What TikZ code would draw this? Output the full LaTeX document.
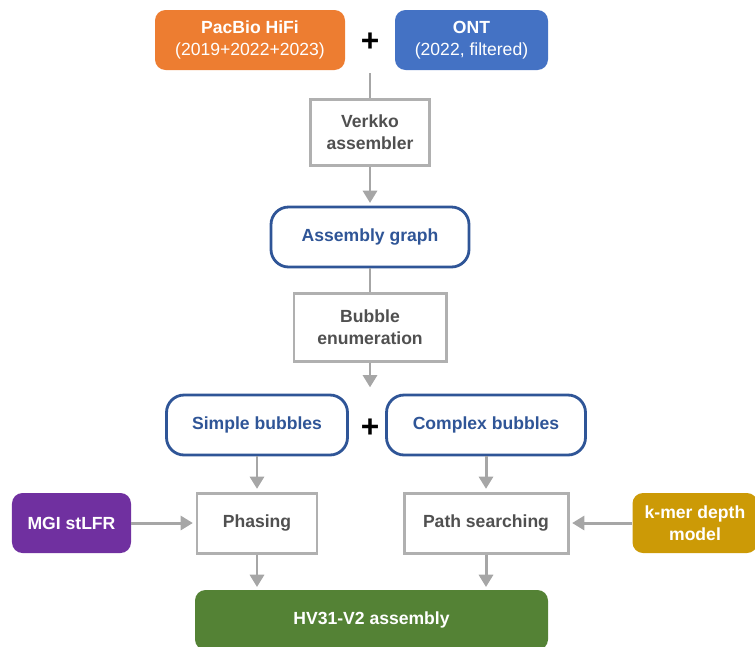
\documentclass[tikz,border=0pt]{standalone}
\usepackage{fontspec}
\setmainfont{Liberation Sans}
\usepackage{tikz}
\usetikzlibrary{arrows.meta,positioning}
\definecolor{hififill}{HTML}{ED7D31}
\definecolor{ontfill}{HTML}{4472C4}
\definecolor{stlfrfill}{HTML}{7030A0}
\definecolor{kmerfill}{HTML}{CC9A06}
\definecolor{finalfill}{HTML}{548235}
\definecolor{graphline}{HTML}{2F5597}
\definecolor{stepline}{HTML}{B0B0B0}
\definecolor{steptext}{HTML}{505050}
\definecolor{linkc}{HTML}{A6A6A6}
\tikzset{
  inputbox/.style={fill=#1, rounded corners=6pt, text=white, align=center,
               minimum height=1.2cm, inner sep=2pt, font=\fontsize{10}{12.5}\selectfont\bfseries},
  stepbox/.style={draw=stepline, line width=1.7pt, fill=white, text=steptext, align=center,
               inner sep=2pt, font=\fontsize{10}{12.5}\selectfont\bfseries},
  graphbox/.style={draw=graphline, line width=1.6pt, rounded corners=10pt, fill=white, text=graphline,
               minimum height=1.2cm, inner sep=2pt, font=\fontsize{10}{12.5}\selectfont\bfseries},
  plus/.style={font=\fontsize{18}{18}\selectfont\bfseries, inner sep=0pt},
  flow/.style={-{Triangle[length=7pt,width=8pt]}, line width=1.7pt, draw=linkc, shorten >=1.5pt},
  link/.style={line width=1.7pt, draw=linkc},
}
\def\cM{7.4}
\def\cL{5.14}
\def\cR{9.72}

\begin{document}
\begin{tikzpicture}
  \useasboundingbox (0,0) rectangle (15.1,-12.92);
  % sequencing data
  \node[inputbox=hififill, minimum width=3.8cm] (hifi) at (5.0,-0.8) {PacBio HiFi\\\mdseries(2019+2022+2023)};
  \node[plus] (plusA) at (\cM,-0.84) {+};
  \node[inputbox=ontfill, minimum width=3.06cm] (ont) at (9.43,-0.8) {ONT\\\mdseries(2022, filtered)};
  \coordinate (join) at (\cM,-1.46);
  % assembly
  \node[stepbox, minimum width=2.38cm, minimum height=1.32cm] (verkko) at (\cM,-2.64) {Verkko\\assembler};
  \node[graphbox, minimum width=3.96cm] (agraph) at (\cM,-4.74) {Assembly graph};
  \node[stepbox, minimum width=3.04cm, minimum height=1.36cm] (bubble) at (\cM,-6.54) {Bubble\\enumeration};
  \coordinate (split) at (\cM,-7.8);
  \node[graphbox, minimum width=3.62cm] (simple) at (\cL,-8.5) {Simple bubbles};
  \node[plus] (plusB) at (\cM,-8.56) {+};
  \node[graphbox, minimum width=3.98cm] (complex) at (\cR,-8.5) {Complex bubbles};
  % resolving bubbles
  \node[stepbox, minimum width=2.4cm, minimum height=1.2cm] (phasing) at (\cL,-10.46) {Phasing};
  \node[stepbox, minimum width=3.28cm, minimum height=1.2cm] (path) at (\cR,-10.46) {Path searching};
  \node[inputbox=stlfrfill, minimum width=2.38cm] (stlfr) at (1.43,-10.46) {MGI stLFR};
  \node[inputbox=kmerfill, minimum width=2.5cm] (kmer) at (13.9,-10.46) {k-mer depth\\model};
  \node[inputbox=finalfill, minimum width=7.06cm] (final) at (7.43,-12.4) {HV31-V2 assembly};
  \draw[link] (join) -- (verkko);
  \draw[flow] (verkko) -- (agraph);
  \draw[link] (agraph) -- (bubble);
  \draw[flow] (bubble) -- (split);
  \draw[flow] (simple) -- (phasing);
  \draw[flow] (complex) -- (path);
  \draw[flow] (stlfr) -- (phasing);
  \draw[flow] (kmer) -- (path);
  \draw[flow] (phasing.south) -- (phasing.south |- final.north);
  \draw[flow] (path.south) -- (path.south |- final.north);
\end{tikzpicture}
\end{document}
